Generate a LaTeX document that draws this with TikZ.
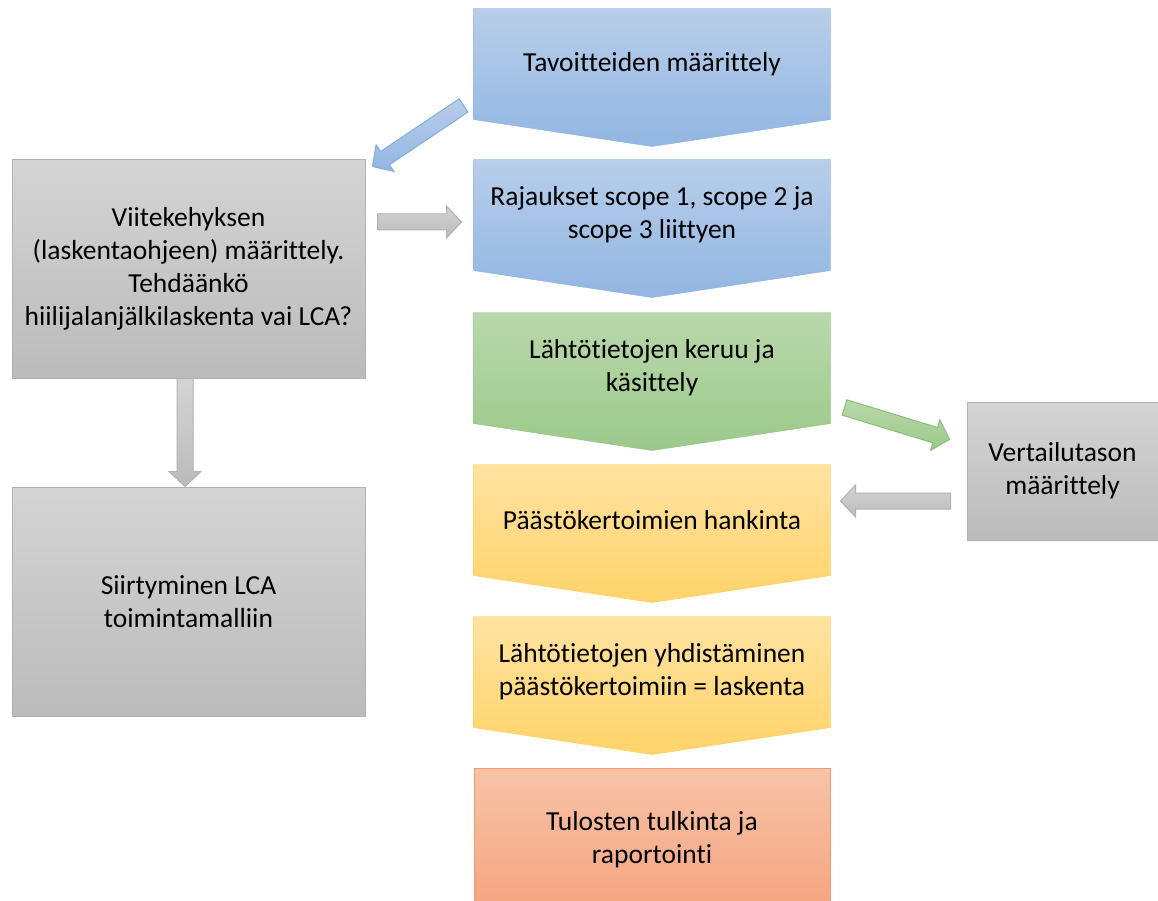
\documentclass[tikz,border=0pt]{standalone}
\usepackage{fontspec}
\setmainfont{Carlito}[Ligatures={NoCommon}]
\usepackage{xcolor}
\usepackage{tikz}
\usetikzlibrary{calc, backgrounds}
\definecolor{goalTop}{HTML}{B8CEEA}
\definecolor{goalBot}{HTML}{92B6E2}
\definecolor{goalEdge}{HTML}{86AEDE}
\definecolor{dataTop}{HTML}{B9D8AC}
\definecolor{dataBot}{HTML}{9BC98A}
\definecolor{dataEdge}{HTML}{8CBF76}
\definecolor{factorTop}{HTML}{FFE3A1}
\definecolor{factorBot}{HTML}{FFD36A}
\definecolor{factorEdge}{HTML}{FFCB3D}
\definecolor{resultTop}{HTML}{F8C3A8}
\definecolor{resultBot}{HTML}{F4A47F}
\definecolor{resultEdge}{HTML}{F29A6B}
\definecolor{frameTop}{HTML}{D4D4D4}
\definecolor{frameBot}{HTML}{BBBBBB}
\definecolor{frameEdge}{HTML}{B2B2B2}
\newcommand{\blockarrow}[3]{%
  \coordinate (ah) at ($(#3)!15pt!(#2)$);
  \path[#1] ($(#2)!8pt!90:(#3)$) -- ($(ah)!8pt!90:(#3)$) -- ($(ah)!16pt!90:(#3)$) -- (#3)
    -- ($(ah)!16pt!-90:(#3)$) -- ($(ah)!8pt!-90:(#3)$) -- ($(#2)!8pt!-90:(#3)$) -- cycle;
}

\begin{document}
\begin{tikzpicture}[x=1pt, y=1pt, line width=1pt, font=\fontsize{27.5}{33}\selectfont,
  stage/.style={minimum width=356pt, minimum height=110pt, align=center, inner sep=0pt},
  sidebox/.style={draw=frameEdge, top color=frameTop, bottom color=frameBot, align=center, inner sep=0pt},
  goalarrow/.style={draw=goalEdge, top color=goalTop, bottom color=goalBot},
  dataarrow/.style={draw=dataEdge, top color=dataTop, bottom color=dataBot},
  framearrow/.style={draw=frameEdge, top color=frameTop, bottom color=frameBot}]
  \useasboundingbox (0,0) rectangle (1158,-901);

  \node[stage] (tav) at (652,-64) {Tavoitteiden määrittely};
  \node[stage] (raj) at (652,-215) {Rajaukset scope 1, scope 2 ja\\scope 3 liittyen};
  \node[stage] (lah) at (652,-368) {Lähtötietojen keruu ja\\käsittely};
  \node[stage] (paa) at (652,-520) {Päästökertoimien hankinta};
  \node[stage] (yhd) at (652,-672) {Lähtötietojen yhdistäminen\\päästökertoimiin = laskenta};
  \node[stage, minimum height=144pt, draw=resultEdge, top color=resultTop, bottom color=resultBot] (tul) at (652,-840) {Tulosten tulkinta ja\\raportointi};

  \node[sidebox, minimum width=353pt, minimum height=218pt] (viite) at (188.5,-269) {Viitekehyksen\\(laskentaohjeen) määrittely.\\Tehdäänkö\\hiilijalanjälkilaskenta vai LCA?};
  \node[sidebox, minimum width=353pt, minimum height=229pt] (siirt) at (188.5,-601.5) {Siirtyminen LCA\\toimintamalliin};
  \node[sidebox, minimum width=191pt, minimum height=138pt] (vert) at (1062.5,-471) {Vertailutason\\määrittely};

  \begin{scope}[on background layer]
    \foreach \n/\c in {tav/goal, raj/goal, lah/data, paa/factor, yhd/factor} {
      \path[draw=\c Edge, top color=\c Top, bottom color=\c Bot] (\n.north west) -- (\n.north east) -- (\n.south east) -- ($(\n.south)+(0,-27)$) -- (\n.south west) -- cycle;
    }
  \end{scope}

  \coordinate (goalS) at ($(tav.south west)+(-10,14)$);
  \coordinate (goalE) at ($(viite.north east)+(7,-7)$);
  \coordinate (scopeS) at ($(viite.east)+(12,47)$);
  \coordinate (scopeE) at ($(raj.west)+(-12,-7)$);
  \coordinate (lcaS) at ($(viite.south)+(-3.5,0)$);
  \coordinate (lcaE) at ($(siirt.north)+(-3.5,0)$);
  \coordinate (baseS) at ($(lah.south east)+(14,16)$);
  \coordinate (baseE) at ($(vert.north west)+(-17,-38)$);
  \coordinate (backS) at ($(vert.west)+(-16,-30)$);
  \coordinate (backE) at ($(paa.east)+(10,19)$);

  \blockarrow{goalarrow}{goalS}{goalE}
  \blockarrow{framearrow}{scopeS}{scopeE}
  \blockarrow{framearrow}{lcaS}{lcaE}
  \blockarrow{dataarrow}{baseS}{baseE}
  \blockarrow{framearrow}{backS}{backE}
\end{tikzpicture}
\end{document}
